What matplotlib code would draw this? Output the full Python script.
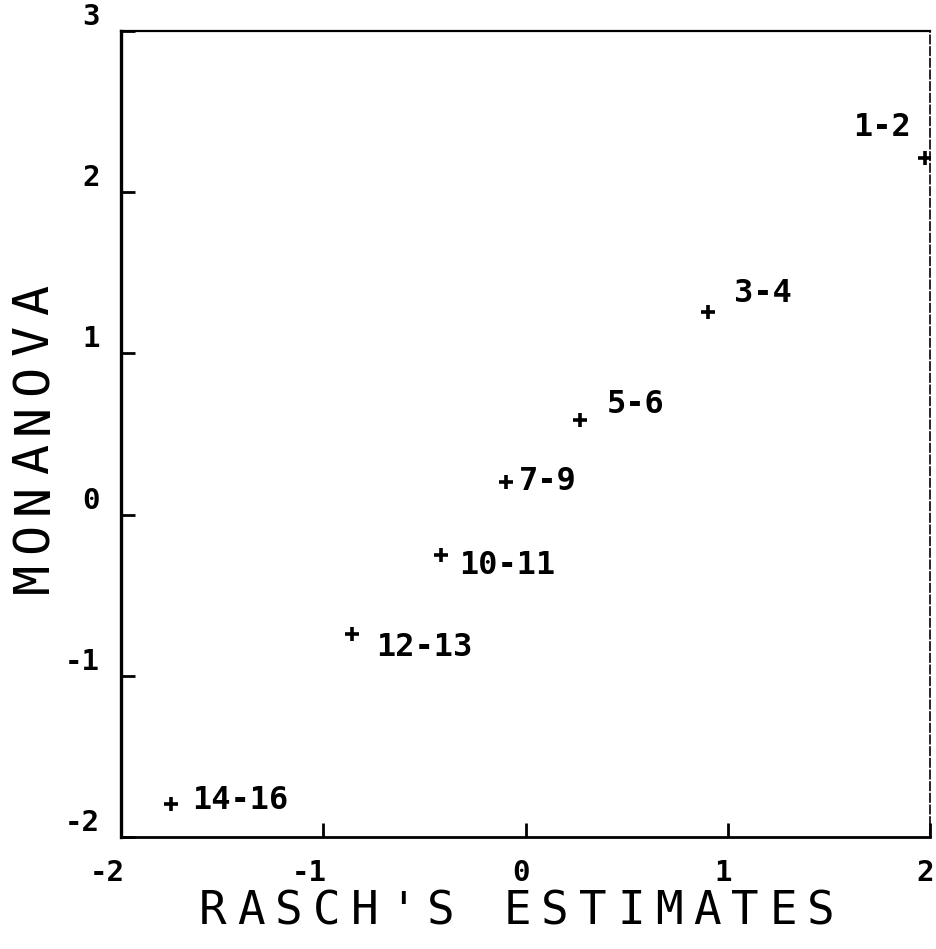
import matplotlib
matplotlib.use("Agg")
import matplotlib.pyplot as plt
import matplotlib.transforms as mtransforms

# data
groups = ["1-2", "3-4", "5-6", "7-9", "10-11", "12-13", "14-16"]
rasch = [1.975, 0.90, 0.267, -0.094, -0.416, -0.856, -1.752]
monanova = [2.21, 1.257, 0.588, 0.204, -0.248, -0.743, -1.796]

xticks = [-2, -1, 0, 1, 2]
yticks = [-2, -1, 0, 1, 2, 3]

# label offsets from each point, in pixels
label_offsets = [(-43, 31), (55, 18), (56, 15), (41, 0), (66, -11), (72, -13), (69, 4)]

W, H = 936, 949
fig = plt.figure(figsize=(W / 100, H / 100), dpi=100)
ax = fig.add_axes([121 / W, 1 - 837 / H, (930 - 121) / W, (837 - 31) / H])

mono = "DejaVu Sans Mono"

ax.plot(rasch, monanova, linestyle="none", marker="+", color="black",
        markersize=10, markeredgewidth=2.6)

for name, x, y, off in zip(groups, rasch, monanova, label_offsets):
    ax.annotate(name, (x, y), xytext=off, textcoords="offset pixels",
                ha="center", va="center", fontsize=23, fontweight="bold",
                family=mono)

ax.set_xlim(-2, 2)
ax.set_ylim(-2, 3)
ax.set_xticks(xticks)
ax.set_yticks(yticks)
ax.set_xticklabels([str(t) for t in xticks], family=mono, fontweight="bold",
                   fontsize=21, ha="right")
ax.set_yticklabels([str(t) for t in yticks], family=mono, fontweight="bold",
                   fontsize=21, va="bottom")
ax.tick_params(direction="in", length=10, width=2.0)
ax.tick_params(axis="x", pad=16)
ax.tick_params(axis="y", pad=15)

# shift x tick labels so the digit sits under the tick
shift = mtransforms.ScaledTranslation(4 / 100, 0, fig.dpi_scale_trans)
for lab in ax.get_xticklabels():
    lab.set_transform(lab.get_transform() + shift)

ax.spines["left"].set_linewidth(2.4)
ax.spines["bottom"].set_linewidth(2.0)
ax.spines["top"].set_linewidth(1.6)
ax.spines["top"].set_linestyle((0, (6, 1)))
ax.spines["right"].set_linewidth(1.2)
ax.spines["right"].set_linestyle((0, (5, 2)))

# spaced-out axis titles
xlabel = "RASCH'S ESTIMATES"
for i, ch in enumerate(xlabel):
    fig.text((213 + i * 38) / W, 1 - 912 / H, ch, ha="center", va="center",
             fontsize=33, family=mono)

ylabel = "MONANOVA"
for i, ch in enumerate(ylabel):
    fig.text(34 / W, 1 - (578 - i * 39.7) / H, ch, ha="center", va="center",
             fontsize=36, family=mono, rotation=90)

fig.savefig("out.png", dpi=100)
